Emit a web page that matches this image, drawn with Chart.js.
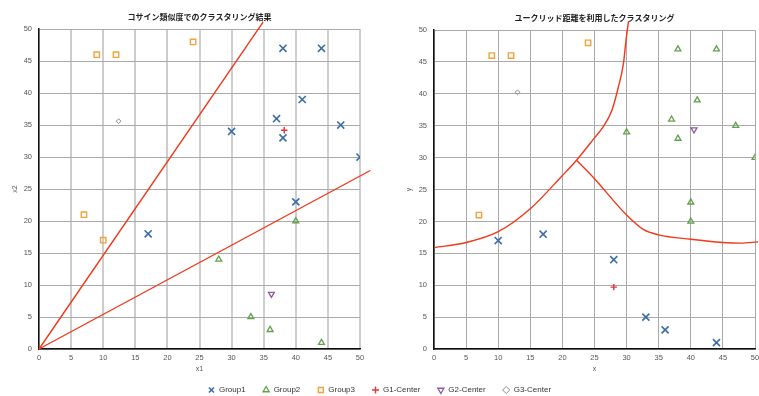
<!DOCTYPE html>
<html>
<head>
<meta charset="utf-8">
<script src="https://cdn.jsdelivr.net/npm/chart.js@4/dist/chart.umd.min.js"></script>
<style>
  html, body { margin: 0; padding: 0; background: #fff; overflow: hidden; width: 759px; height: 396px; position: relative; }
  canvas { position: absolute; }
  #cosChart { left: 0; top: 0; }
  #eucChart { left: 380px; top: 0; }
  #legendChart { left: 0; top: 369px; }
</style>
</head>
<body>
<canvas id="cosChart" width="380" height="378"></canvas>
<canvas id="eucChart" width="385" height="378"></canvas>
<canvas id="legendChart" width="759" height="80"></canvas>
<script>
// ---- Cosine-similarity clustering ----
const cosGroup1 = [[38,47],[44,47],[41,39],[37,36],[30,34],[38,33],[47,35],[50,30],[40,23],[17,18]];
const cosGroup2 = [[40,20],[28,14],[33,5],[36,3],[44,1]];
const cosGroup3 = [[9,46],[12,46],[24,48],[7,21],[10,17]];
const cosG1Center = [[38.2,34.2]];
const cosG2Center = [[36.2,8.6]];
const cosG3Center = [[12.4,35.6]];
// boundary rays from the origin
const cosBoundaryUpper = [[0,0],[34.9,51.1]];
const cosBoundaryLower = [[0,0],[51.6,27.9]];

// ---- Euclidean-distance clustering ----
const eucGroup1 = [[10,17],[17,18],[28,14],[33,5],[36,3],[44,1]];
const eucGroup2 = [[30,34],[38,47],[44,47],[41,39],[37,36],[38,33],[47,35],[50,30],[40,23],[40,20]];
const eucGroup3 = [[7,21],[9,46],[12,46],[24,48]];
const eucG1Center = [[28,9.7]];
const eucG2Center = [[40.5,34.4]];
const eucG3Center = [[13,40.25]];
// cluster boundary curves
const eucBoundaryA = [[0,15.9],[5,16.7],[10,18.4],[15,22.0],[20,27.2],[22.2,29.6],[25,33.1],[26.4,34.9],[27.7,37.4],[28.7,41.0],[29.5,44.7],[29.9,48.3],[30.3,51.4]];
const eucBoundaryB = [[22.2,29.6],[25,26.7],[30,21.0],[32.6,18.75],[35,17.9],[40,17.2],[45,16.7],[47.8,16.6],[50.5,16.8]];

const seriesNames = ['Group1','Group2','Group3','G1-Center','G2-Center','G3-Center'];
const tickFont = { family: '"Liberation Sans", Arial, sans-serif', size: 7.5 };
const titleFont = { family: '"Noto Sans CJK JP", sans-serif', size: 8, weight: 'bold' };

function pts(arr) { return arr.map(p => ({ x: p[0], y: p[1] })); }

const markerStyles = [
  { pointStyle: 'crossRot', pointRadius: 5, borderColor: '#3c6ca3', backgroundColor: '#3c6ca3', borderWidth: 1.6 },
  { pointStyle: 'triangle', pointRadius: 3.4, borderColor: '#62a04c', backgroundColor: 'rgba(255,255,255,0)', borderWidth: 1.3 },
  { pointStyle: 'rect', pointRadius: 3.8, borderColor: '#f2a23a', backgroundColor: 'rgba(255,255,255,0)', borderWidth: 1.4 },
  { pointStyle: 'cross', pointRadius: 3.2, borderColor: '#e0383a', backgroundColor: '#e0383a', borderWidth: 1.4 },
  { pointStyle: 'triangle', pointRotation: 180, pointRadius: 3.4, borderColor: '#8c58a0', backgroundColor: 'rgba(255,255,255,0)', borderWidth: 1.3 },
  { pointStyle: 'rectRot', pointRadius: 2.4, borderColor: '#8a8a8a', backgroundColor: 'rgba(255,255,255,0)', borderWidth: 1 }
];

function markerDatasets(lists) {
  return lists.map((arr, i) => Object.assign({
    label: seriesNames[i], data: pts(arr), showLine: false, pointHoverRadius: 0
  }, markerStyles[i]));
}

function boundary(arr, curved) {
  return {
    label: '', data: pts(arr), showLine: true, pointRadius: 0, borderColor: '#f0381a',
    borderWidth: 1.4, tension: curved ? 0.4 : 0, cubicInterpolationMode: curved ? 'monotone' : 'default',
    clip: false, fill: false
  };
}

function makeChart(id, title, xTitle, yTitle, datasets, opts) {
  return new Chart(document.getElementById(id), {
    type: 'scatter',
    data: { datasets: datasets },
    options: {
      responsive: false, animation: false, events: [],
      layout: { padding: { left: 5, right: opts.padRight, top: 0, bottom: 2 } },
      plugins: {
        legend: { display: false }, tooltip: { enabled: false },
        title: { display: true, fullSize: false, text: title, font: titleFont, color: '#222', padding: { top: opts.titleTop, bottom: 7.5 } }
      },
      scales: {
        x: {
          type: 'linear', min: 0, max: 50,
          ticks: { stepSize: 5, font: tickFont, color: '#555', padding: 4, maxRotation: 0 },
          grid: { color: opts.vGrid, lineWidth: opts.vGridWidth, drawTicks: false },
          border: { color: '#111', width: 1.5 },
          title: { display: true, text: xTitle, font: { family: tickFont.family, size: 7 }, color: '#555', padding: { top: 0, bottom: 3 } },
          afterFit: s => { s.height = 27; }
        },
        y: {
          type: 'linear', min: 0, max: 50,
          ticks: { stepSize: 5, font: tickFont, color: '#555', padding: 7 },
          grid: { color: '#a9a9a9', lineWidth: 1, drawTicks: false },
          border: { color: '#111', width: 1.5 },
          title: { display: true, text: yTitle, font: { family: tickFont.family, size: 7 }, color: '#555', padding: { top: opts.yTitlePad, bottom: 0 } },
          afterFit: s => { s.width = opts.yWidth; }
        }
      }
    }
  });
}

makeChart('cosChart', 'コサイン類似度でのクラスタリング結果', 'x1', 'x2',
  markerDatasets([cosGroup1, cosGroup2, cosGroup3, cosG1Center, cosG2Center, cosG3Center])
    .concat([boundary(cosBoundaryUpper, false), boundary(cosBoundaryLower, false)]),
  { padRight: 20, titleTop: 12, yWidth: 34, yTitlePad: 6, vGrid: '#cdcdcd', vGridWidth: 2 });

makeChart('eucChart', 'ユークリッド距離を利用したクラスタリング', 'x', 'y',
  markerDatasets([eucGroup1, eucGroup2, eucGroup3, eucG1Center, eucG2Center, eucG3Center])
    .concat([boundary(eucBoundaryA, true), boundary(eucBoundaryB, true)]),
  { padRight: 10, titleTop: 13, yWidth: 49, yTitlePad: 20, vGrid: '#a9a9a9', vGridWidth: 1 });

// shared legend below both plots
new Chart(document.getElementById('legendChart'), {
  type: 'scatter',
  data: { datasets: markerDatasets([[], [], [], [], [], []]) },
  options: {
    responsive: false, animation: false, events: [],
    layout: { padding: 0 },
    scales: { x: { display: false }, y: { display: false } },
    plugins: {
      tooltip: { enabled: false },
      legend: {
        display: true, position: 'top', maxHeight: 80,
        labels: { usePointStyle: true, boxWidth: 7, boxHeight: 5, padding: 17,
          font: { family: '"Liberation Sans", Arial, sans-serif', size: 8 }, color: '#333' }
      }
    }
  }
});
</script>
</body>
</html>
